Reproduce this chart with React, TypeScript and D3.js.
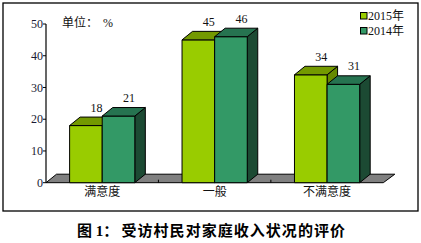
import React from "react";
import * as d3 from "d3";

const categories = ["满意度", "一般", "不满意度"];
const seriesNames = ["2015年", "2014年"];
const values2015 = [18, 45, 34];
const values2014 = [21, 46, 31];
const yTicks = [0, 10, 20, 30, 40, 50];

const W = 421;
const H = 243;
const DX = 10.5;
const DY = -8.5;
const FONT = "'Liberation Serif', 'Noto Sans CJK SC', serif";

const colors = [
  { front: "#99cc00", top: "#739900", side: "#668a00" },
  { front: "#339966", top: "#267350", side: "#1c4a33" },
];

export default function App() {
  const y = d3.scaleLinear().domain([0, 50]).range([182.7, 24]);
  const x0 = d3
    .scaleBand<string>()
    .domain(categories)
    .range([46, 383.3])
    .paddingInner(0.42)
    .paddingOuter(0.21);
  const x1 = d3
    .scaleBand<string>()
    .domain(seriesNames)
    .range([0, x0.bandwidth()]);
  const step = x0.step();
  const x0Start = 46;
  const x0End = 383.3;
  const y0 = y(0);
  const data = [values2015, values2014];

  const bars: React.ReactNode[] = [];
  categories.forEach((c, ci) => {
    seriesNames.forEach((s, si) => {
      const v = data[si][ci];
      const xl = (x0(c) as number) + (x1(s) as number);
      const xr = xl + x1.bandwidth();
      const yt = y(v);
      const col = colors[si];
      const front = `M${xl},${y0}L${xl},${yt}L${xr},${yt}L${xr},${y0}Z`;
      const top = `M${xl},${yt}L${xl + DX},${yt + DY}L${xr + DX},${yt + DY}L${xr},${yt}Z`;
      const side = `M${xr},${yt}L${xr + DX},${yt + DY}L${xr + DX},${y0 + DY}L${xr},${y0}Z`;
      bars.push(
        <g key={`${ci}-${si}`} stroke="#000" strokeWidth={1} strokeLinejoin="round">
          <path d={side} fill={col.side} />
          <path d={front} fill={col.front} />
          <path d={top} fill={col.top} />
        </g>
      );
      bars.push(
        <text
          key={`l-${ci}-${si}`}
          x={(xl + xr) / 2 + DX}
          y={yt + DY - 5.5}
          textAnchor="middle"
          fontSize={12}
          fontFamily={FONT}
          fill="#111"
        >
          {v}
        </text>
      );
    });
  });

  const floor = `M${x0Start},${y0}L${x0Start + DX},${y0 + DY}L${x0End + DX + 1},${y0 + DY}L${x0End},${y0}Z`;

  return (
    <svg
      width={W}
      height={H}
      style={{ position: "absolute", left: 0, top: 0, background: "#fff" }}
    >
      <rect x={0} y={0} width={W} height={H} fill="#fff" />
      <rect x={3} y={3} width={415} height={208} fill="none" stroke="#000" strokeWidth={1.3} />
      <path d={floor} fill="#808080" stroke="#000" strokeWidth={1} />
      {[1, 2].map((i) => (
        <line
          key={`ft-${i}`}
          x1={x0Start + step * i}
          x2={x0Start + step * i}
          y1={y0 - 3}
          y2={y0}
          stroke="#000"
          strokeWidth={1}
        />
      ))}
      {bars}
      <line x1={46} x2={46} y1={y(50)} y2={y0} stroke="#000" strokeWidth={1.2} />
      {yTicks.map((t) => (
        <g key={`yt-${t}`}>
          <line x1={43} x2={46} y1={y(t)} y2={y(t)} stroke="#000" strokeWidth={1} />
          <text
            x={43}
            y={y(t)}
            dy="0.35em"
            textAnchor="end"
            fontSize={12}
            fontFamily={FONT}
            fill="#1a1a33"
          >
            {t}
          </text>
        </g>
      ))}
      {categories.map((c) => (
        <text
          key={`xl-${c}`}
          x={(x0(c) as number) + x0.bandwidth() / 2}
          y={191.7}
          dy="0.35em"
          textAnchor="middle"
          fontSize={12}
          fontFamily={FONT}
          fill="#111"
        >
          {c}
        </text>
      ))}
      <text x={62} y={22.7} dy="0.35em" fontSize={12} fontFamily={FONT} fill="#111">
        单位：
      </text>
      <text x={103} y={22.7} dy="0.35em" fontSize={12} fontFamily={FONT} fill="#111">
        %
      </text>
      {seriesNames.map((s, si) => (
        <g key={`lg-${s}`}>
          <rect
            x={360.5}
            y={12.5 + si * 15}
            width={6.5}
            height={6.5}
            fill={colors[si].front}
            stroke="#000"
            strokeWidth={1}
          />
          <text
            x={368}
            y={16 + si * 15}
            dy="0.35em"
            fontSize={12}
            fontFamily={FONT}
            fill="#111"
          >
            {s}
          </text>
        </g>
      ))}
      <text
        x={77}
        y={231}
        dy="0.35em"
        fontSize={15}
        fontWeight="bold"
        fontFamily={FONT}
        fill="#000"
      >
        图 1：
      </text>
      <text
        x={121.5}
        y={231}
        dy="0.35em"
        fontSize={15}
        fontWeight="bold"
        fontFamily={FONT}
        fill="#000"
        textLength={223.5}
        lengthAdjust="spacing"
      >
        受访村民对家庭收入状况的评价
      </text>
    </svg>
  );
}
